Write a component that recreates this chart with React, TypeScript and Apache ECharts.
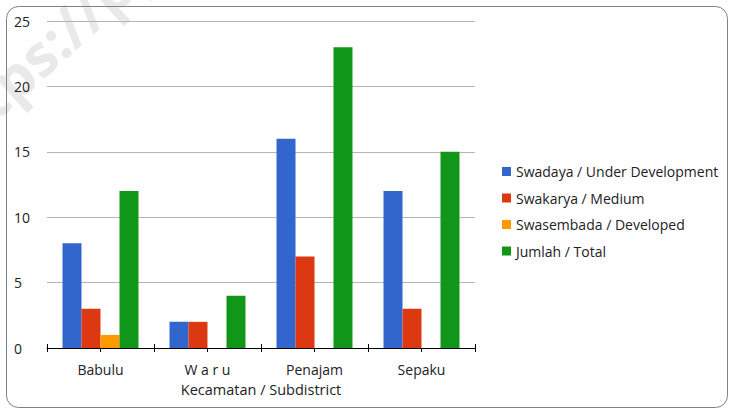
import React, { useEffect, useRef } from "react";
import * as echarts from "echarts";

const categories = ["Babulu", "W a r u", "Penajam", "Sepaku"];
const seriesNames = [
  "Swadaya / Under Development",
  "Swakarya / Medium",
  "Swasembada / Developed",
  "Jumlah / Total",
];
const swadaya = [8, 2, 16, 12];
const swakarya = [3, 2, 7, 3];
const swasembada = [1, 0, 0, 0];
const jumlah = [12, 4, 23, 15];
const colors = ["#3366cc", "#dc3912", "#ff9900", "#109618"];
const yTicks = { min: 0, max: 25, interval: 5 };
const xAxisName = "Kecamatan / Subdistrict";
const watermarkHead = "https://";
const watermarkTail = "ppukab.bps.go.id";

export default function App() {
  const ref = useRef<HTMLDivElement>(null);
  useEffect(() => {
    document.body.style.margin = "0";
    if (!ref.current) return;
    const chart = echarts.init(ref.current, null, { renderer: "svg" });
    const font = "'Open Sans', 'DejaVu Sans', sans-serif";
    const values = [swadaya, swakarya, swasembada, jumlah];
    const wmStyle = {
      font: "bold 58px 'Open Sans', sans-serif",
      fill: "#e9e9e9",
      textVerticalAlign: "middle",
    };
    const rot = (42 * Math.PI) / 180;
    chart.setOption({
      animation: false,
      textStyle: { fontFamily: font },
      graphic: [
        {
          type: "text",
          z: -10,
          x: 96,
          y: 2,
          rotation: rot,
          style: { ...wmStyle, text: watermarkHead, textAlign: "right" },
        },
        {
          type: "text",
          z: -10,
          x: 96,
          y: 2,
          rotation: rot,
          style: { ...wmStyle, text: watermarkTail, textAlign: "left" },
        },
        {
          type: "rect",
          z: 100,
          shape: { x: 6.5, y: 6.5, width: 721, height: 401, r: 12 },
          style: { fill: "none", stroke: "#808080", lineWidth: 1 },
        },
      ],
      grid: { left: 47, right: 254, top: 21, bottom: 61 },
      legend: {
        orient: "vertical",
        left: 502,
        top: 164,
        padding: 0,
        itemWidth: 9,
        itemHeight: 9,
        itemGap: 11.5,
        icon: "rect",
        data: seriesNames,
        textStyle: { fontSize: 14, color: "#222", lineHeight: 15, fontFamily: font },
      },
      xAxis: [
        {
          type: "category",
          data: categories,
          position: "bottom",
          axisLine: { lineStyle: { color: "#000", width: 1 } },
          axisTick: { show: true, length: 4, lineStyle: { color: "#000" } },
          axisLabel: { color: "#222", fontSize: 14, margin: 14, fontFamily: font },
          name: xAxisName,
          nameLocation: "middle",
          nameGap: 34,
          nameTextStyle: { color: "#222", fontSize: 14.5, fontFamily: font },
        },
        {
          type: "category",
          data: categories,
          position: "bottom",
          axisLine: { show: false },
          axisTick: { show: true, inside: true, length: 4, lineStyle: { color: "#000" } },
          axisLabel: { show: false },
        },
        {
          type: "category",
          data: categories,
          position: "bottom",
          axisLine: { show: false },
          axisTick: { show: true, alignWithLabel: true, length: 4, lineStyle: { color: "#000" } },
          axisLabel: { show: false },
        },
      ],
      yAxis: {
        type: "value",
        min: yTicks.min,
        max: yTicks.max,
        interval: yTicks.interval,
        axisLine: { show: false },
        axisTick: { show: false },
        splitLine: { lineStyle: { color: "#b5b5b5", width: 1 } },
        axisLabel: { color: "#222", fontSize: 14, align: "left", margin: 33, fontFamily: font },
      },
      series: seriesNames.map((name, i) => ({
        name,
        type: "bar",
        data: values[i],
        barGap: "0%",
        barCategoryGap: "29%",
        itemStyle: { color: colors[i] },
      })),
    });
    return () => chart.dispose();
  }, []);
  return <div ref={ref} style={{ width: 729, height: 409 }} />;
}
